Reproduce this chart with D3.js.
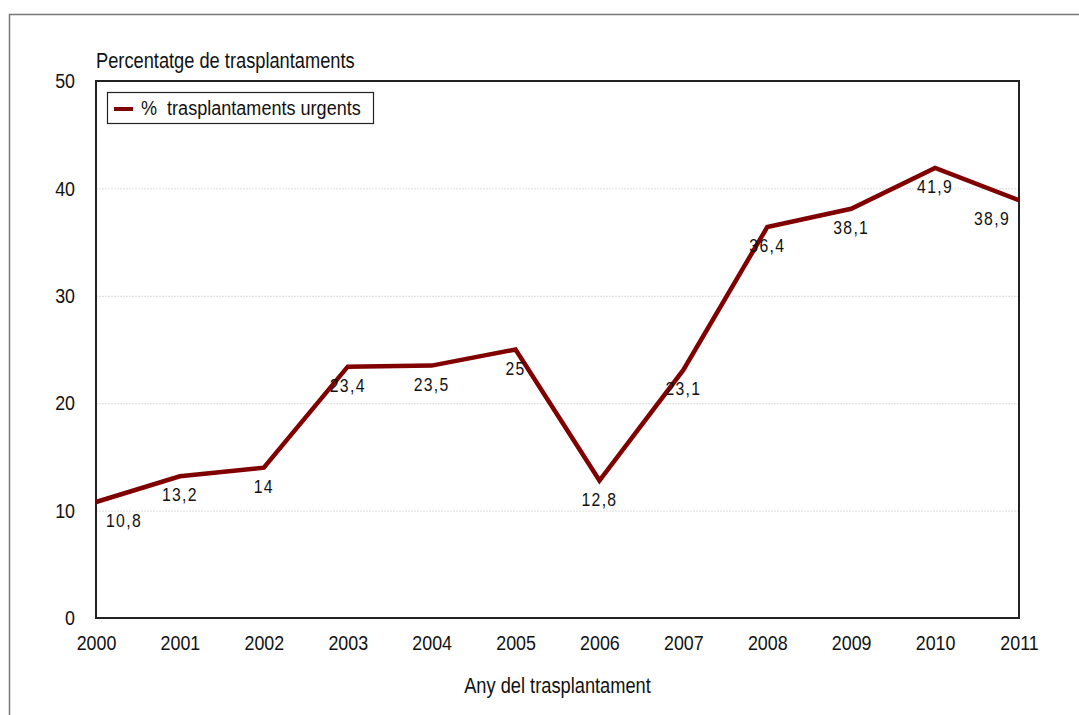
<!DOCTYPE html>
<html>
<head>
<meta charset="utf-8">
<script src="https://d3js.org/d3.v7.min.js"></script>
<style>
  body { margin: 0; background: #fff; }
  svg { font-family: "Liberation Sans", Arial, sans-serif; display: block; }
</style>
</head>
<body>
<svg id="chart" width="1079" height="715"></svg>
<script>
// data
const years = [2000, 2001, 2002, 2003, 2004, 2005, 2006, 2007, 2008, 2009, 2010, 2011];
const urgentPct = [10.8, 13.2, 14, 23.4, 23.5, 25, 12.8, 23.1, 36.4, 38.1, 41.9, 38.9];
const yTicks = [0, 10, 20, 30, 40, 50];
const seriesName = "% trasplantaments urgents";

const svg = d3.select("#chart");
const margin = { left: 96, top: 81, right: 1019, bottom: 618 };
const lineColor = "#800000";
const squeeze = 0.83; // the original font is a narrow sans

// text helper: places a horizontally squeezed label at (x, y)
function label(parent, x, y, str, size, anchor) {
  return parent.append("text")
    .attr("transform", `translate(${x},${y}) scale(${squeeze},1)`)
    .attr("text-anchor", anchor || "start")
    .attr("font-size", size)
    .attr("fill", "#111")
    .text(str);
}

// outer frame (runs off the right and bottom edge)
svg.append("path")
  .attr("d", "M9.5,715 V14.5 H1079")
  .attr("fill", "none")
  .attr("stroke", "#777")
  .attr("stroke-width", 1.5);

const x = d3.scaleLinear().domain([2000, 2011]).range([margin.left, margin.right]);
const y = d3.scaleLinear().domain([0, 50]).range([margin.bottom, margin.top]);

// gridlines
svg.append("g")
  .selectAll("line")
  .data(yTicks.filter(t => t > 0 && t < 50))
  .join("line")
  .attr("x1", margin.left).attr("x2", margin.right)
  .attr("y1", d => y(d) + 0.5).attr("y2", d => y(d) + 0.5)
  .attr("stroke", "#ddd")
  .attr("stroke-dasharray", "2,1");

// plot frame
svg.append("rect")
  .attr("x", margin.left).attr("y", margin.top)
  .attr("width", margin.right - margin.left)
  .attr("height", margin.bottom - margin.top)
  .attr("fill", "none")
  .attr("stroke", "#222")
  .attr("stroke-width", 2);

// y axis labels
const yAxis = svg.append("g")
  .attr("transform", `translate(${margin.left - 21},0)`)
  .call(d3.axisLeft(y).tickValues(yTicks).tickSize(0).tickPadding(0));
yAxis.select(".domain").remove();
yAxis.selectAll("text")
  .attr("x", 0)
  .attr("transform", `scale(0.85,1)`)
  .attr("font-size", 21)
  .attr("font-family", "Liberation Sans, Arial, sans-serif")
  .attr("fill", "#111");

// x axis labels
const xAxis = svg.append("g")
  .attr("transform", `translate(0,${margin.bottom + 17})`)
  .call(d3.axisBottom(x).tickValues(years).tickFormat(d3.format("d")).tickSize(0).tickPadding(0));
xAxis.select(".domain").remove();
xAxis.selectAll("text")
  .attr("transform", `scale(0.85,1)`)
  .attr("font-size", 21)
  .attr("font-family", "Liberation Sans, Arial, sans-serif")
  .attr("fill", "#111");

// titles
label(svg, margin.left, 68, "Percentatge de trasplantaments", 22);
label(svg, (margin.left + margin.right) / 2, 693, "Any del trasplantament", 22, "middle");

// line
const pts = years.map((yr, i) => ({ year: yr, v: urgentPct[i] }));
svg.append("path")
  .datum(pts)
  .attr("fill", "none")
  .attr("stroke", lineColor)
  .attr("stroke-width", 4.5)
  .attr("stroke-linejoin", "miter")
  .attr("d", d3.line().x(d => x(d.year)).y(d => y(d.v)));

// data labels, centred under each point, kept inside the frame
const dl = svg.append("g");
pts.forEach((d, i) => {
  let cx = x(d.year);
  if (i === 0) cx += 28;
  if (i === pts.length - 1) cx -= 27;
  label(dl, cx, y(d.v) + 25, String(d.v).replace(".", ","), 19, "middle")
    .attr("letter-spacing", 1.6);
});

// legend
const lg = svg.append("g").attr("transform", "translate(107,92)");
lg.append("rect")
  .attr("x", 0.5).attr("y", 0.5)
  .attr("width", 266).attr("height", 31)
  .attr("fill", "#fff")
  .attr("stroke", "#222")
  .attr("stroke-width", 1.2);
lg.append("line")
  .attr("x1", 7).attr("x2", 26)
  .attr("y1", 17).attr("y2", 17)
  .attr("stroke", lineColor)
  .attr("stroke-width", 4);
label(lg, 34, 23, "%  trasplantaments urgents", 21)
  .attr("transform", "translate(34,23) scale(0.86,1)")
  .attr("xml:space", "preserve");
</script>
</body>
</html>
